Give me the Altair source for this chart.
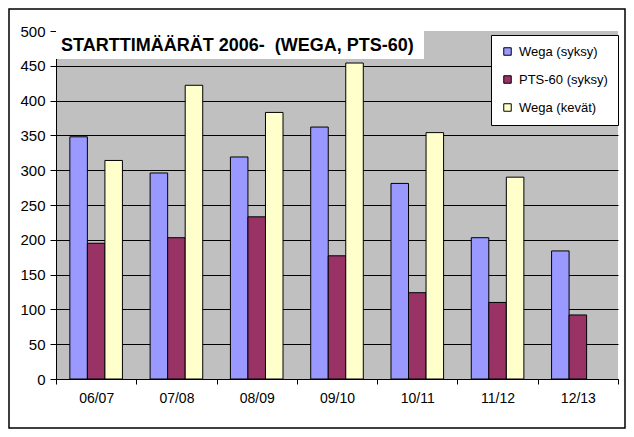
import altair as alt
import pandas as pd

seasons = ["06/07", "07/08", "08/09", "09/10", "10/11", "11/12", "12/13"]
series_names = ["Wega (syksy)", "PTS-60 (syksy)", "Wega (kevät)"]
wega_syksy = [348, 296, 319, 362, 281, 203, 184]
pts60_syksy = [195, 203, 233, 177, 124, 110, 92]
wega_kevat = [314, 422, 383, 454, 354, 290, None]
colors = ["#9999FF", "#993366", "#FFFFCC"]
y_ticks = [0, 50, 100, 150, 200, 250, 300, 350, 400, 450, 500]
title_text = "STARTTIMÄÄRÄT 2006-\u00a0 (WEGA, PTS-60)"

rows = []
for name, vals in zip(series_names, [wega_syksy, pts60_syksy, wega_kevat]):
    for s, v in zip(seasons, vals):
        if v is not None:
            rows.append({"season": s, "series": name, "value": v})
df = pd.DataFrame(rows)

W, H = 562, 348
FONT = "Liberation Sans"

bars = alt.Chart(df).mark_bar(stroke="black", strokeWidth=1).encode(
    x=alt.X("season:N", sort=seasons,
            scale=alt.Scale(paddingInner=0, paddingOuter=0),
            axis=alt.Axis(title=None, labelAngle=0, tickBand="extent",
                          labelFontSize=14, labelPadding=7, tickSize=5,
                          domainColor="black", tickColor="black",
                          labelColor="black", labelFont=FONT)),
    xOffset=alt.XOffset("series:N", sort=series_names,
                        scale=alt.Scale(paddingInner=0, paddingOuter=0.79)),
    y=alt.Y("value:Q", scale=alt.Scale(domain=[0, 500], nice=False),
            axis=alt.Axis(title=None, values=y_ticks, grid=True,
                          gridColor="black", gridWidth=1,
                          gridOpacity={"condition": {"test": "datum.value >= 500", "value": 0}, "value": 1},
                          labelFontSize=15, labelPadding=5, tickSize=6,
                          domainColor="black", tickColor="black",
                          labelColor="black", labelFont=FONT)),
    color=alt.Color("series:N",
                    scale=alt.Scale(domain=series_names, range=colors),
                    legend=alt.Legend(title=None, orient="none", legendX=435, legendY=4,
                                      fillColor="white", strokeColor="black",
                                      padding=10, rowPadding=14,
                                      symbolType="square", symbolSize=56,
                                      symbolStrokeColor="black", symbolStrokeWidth=1,
                                      symbolOpacity=1,
                                      labelFontSize=13, labelFont=FONT,
                                      labelColor="black", labelOffset=5)),
)

title_df = pd.DataFrame({"t": [title_text]})
title_box = alt.Chart(title_df).mark_rect(fill="white").encode(
    x=alt.value(0), x2=alt.value(368), y=alt.value(0), y2=alt.value(28)
)
title_txt = alt.Chart(title_df).mark_text(
    align="left", baseline="middle", fontSize=18, fontWeight="bold",
    font=FONT, color="black"
).encode(text="t:N", x=alt.value(5), y=alt.value(15))

frame = alt.Chart(title_df).mark_rect(fill=None, stroke="black", strokeWidth=1.5).encode(
    x=alt.value(-47), x2=alt.value(W + 7), y=alt.value(-22), y2=alt.value(H + 49)
)

chart = alt.layer(bars, title_box, title_txt, frame).properties(
    width=W, height=H,
    autosize=alt.AutoSizeParams(type="none"),
    padding={"left": 48, "top": 23, "right": 8, "bottom": 50},
    background="white",
).configure_view(fill="#C0C0C0", strokeWidth=0)

chart.save("out.html", embed_options={"renderer": "svg", "actions": False})
